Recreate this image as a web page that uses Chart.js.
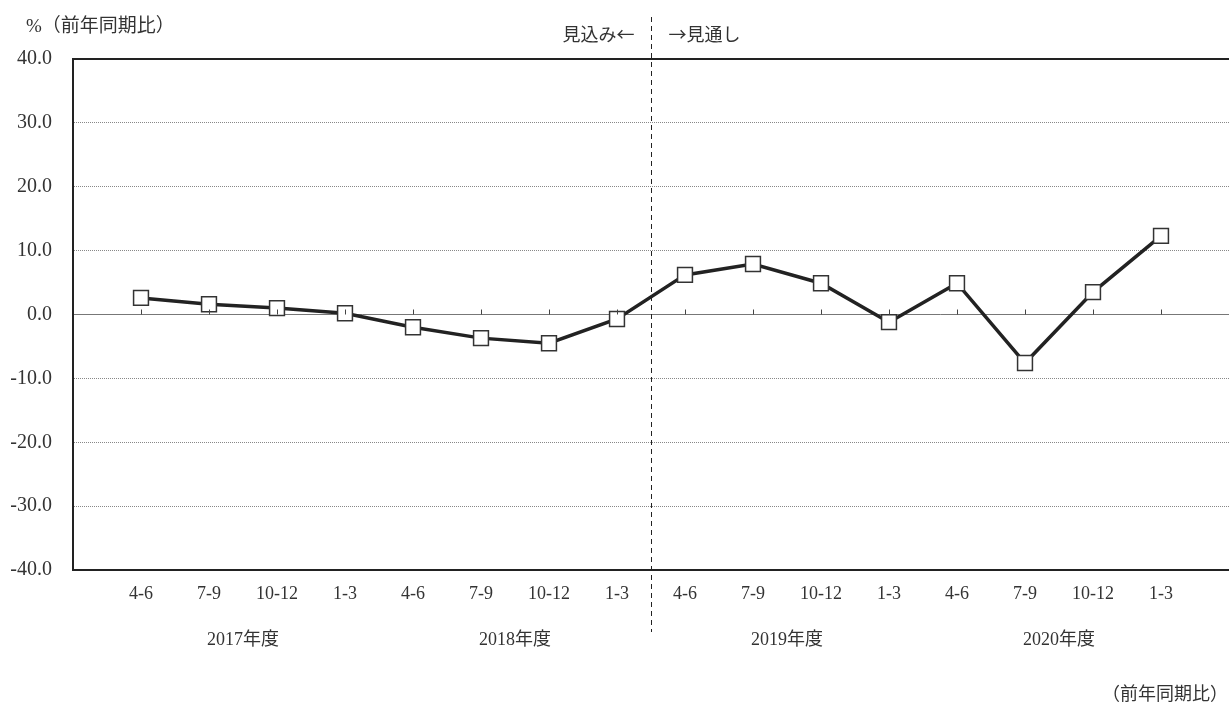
<!DOCTYPE html>
<html>
<head>
<meta charset="utf-8">
<script src="https://cdn.jsdelivr.net/npm/chart.js@4"></script>
<style>
  body { margin: 0; background: #fff; }
  #wrap { width: 1229px; height: 706px; position: relative; }
</style>
</head>
<body>
<div id="wrap"><canvas id="line-chart"></canvas></div>
<script>
const QUARTERS = ['4-6', '7-9', '10-12', '1-3', '4-6', '7-9', '10-12', '1-3',
                  '4-6', '7-9', '10-12', '1-3', '4-6', '7-9', '10-12', '1-3'];
const YEARS = ['2017年度', '2018年度', '2019年度', '2020年度'];
const VALUES = [2.6, 1.6, 1.0, 0.2, -2.0, -3.7, -4.5, -0.7,
                6.2, 7.9, 4.9, -1.2, 4.9, -7.6, 3.5, 12.3];
const Y_TICKS = [-40, -30, -20, -10, 0, 10, 20, 30, 40];
const SPLIT_AFTER = 8; // 見込み / 見通し boundary (after 8th quarter)

const SERIF = "'Liberation Serif', 'Noto Sans CJK JP', serif";
const JP = "'Noto Sans CJK JP', sans-serif";
const INK = '#222';

const annotations = {
  id: 'annotations',
  afterDraw(chart) {
    const { ctx, chartArea: area, scales: { x, y } } = chart;
    ctx.save();

    // frame top line
    ctx.strokeStyle = INK;
    ctx.lineWidth = 2;
    ctx.beginPath();
    ctx.moveTo(area.left, area.top);
    ctx.lineTo(area.right, area.top);
    ctx.stroke();

    // small ticks on the zero line
    const y0 = y.getPixelForValue(0);
    ctx.strokeStyle = '#444';
    ctx.lineWidth = 1;
    QUARTERS.forEach((_, i) => {
      const px = Math.round(x.getPixelForValue(i + 1)) + 0.5;
      ctx.beginPath();
      ctx.moveTo(px, y0);
      ctx.lineTo(px, y0 - 5);
      ctx.stroke();
    });

    // dashed split line
    const sx = Math.round(x.getPixelForValue(SPLIT_AFTER + 0.5)) + 0.5;
    ctx.strokeStyle = INK;
    ctx.setLineDash([5, 4]);
    ctx.beginPath();
    ctx.moveTo(sx, 17);
    ctx.lineTo(sx, 632);
    ctx.stroke();
    ctx.setLineDash([]);

    ctx.fillStyle = '#333';
    ctx.textBaseline = 'middle';
    ctx.font = "18px " + JP;
    ctx.textAlign = 'right';
    ctx.fillText('見込み←', sx - 17, 34);
    ctx.textAlign = 'left';
    ctx.fillText('→見通し', sx + 17, 34);
    ctx.font = "19px " + SERIF;
    ctx.fillText('%（前年同期比）', 26, 27);
    ctx.font = "18px " + SERIF;
    ctx.textAlign = 'right';
    ctx.fillText('（前年同期比）', 1228, 695);

    // fiscal year labels
    ctx.textAlign = 'center';
    YEARS.forEach((label, i) => {
      ctx.fillText(label, x.getPixelForValue(i * 4 + 2.5), 640);
    });
    ctx.restore();
  },
};

function initChart() {
  const ctx = document.getElementById('line-chart').getContext('2d');
  new Chart(ctx, {
    type: 'line',
    data: {
      datasets: [{
        data: VALUES.map((v, i) => ({ x: i + 1, y: v })),
        borderColor: INK,
        borderWidth: 3.5,
        pointStyle: 'rect',
        pointRadius: 10.5,
        pointBorderWidth: 1.5,
        pointBorderColor: '#333',
        pointBackgroundColor: '#fff',
        tension: 0,
      }],
    },
    options: {
      responsive: true,
      maintainAspectRatio: false,
      animation: false,
      layout: { autoPadding: false, padding: { top: 59, right: 0, left: 0, bottom: 0 } },
      plugins: { legend: { display: false }, tooltip: { enabled: false } },
      scales: {
        x: {
          type: 'linear',
          min: 0,
          max: QUARTERS.length + 1,
          afterBuildTicks: (scale) => { scale.ticks = QUARTERS.map((_, i) => ({ value: i + 1 })); },
          grid: { display: false },
          border: { display: true, color: INK, width: 2 },
          ticks: {
            color: '#333', font: { family: SERIF, size: 18 }, padding: 5, maxRotation: 0, autoSkip: false,
            callback: (v) => QUARTERS[v - 1],
          },
          afterFit: (scale) => { scale.height = 136; },
        },
        y: {
          min: -40,
          max: 40,
          afterBuildTicks: (scale) => { scale.ticks = Y_TICKS.map(v => ({ value: v })); },
          grid: {
            drawTicks: false,
            color: (c) => (c.tick && Math.abs(c.tick.value) === 40) ? 'rgba(0,0,0,0)' : (c.tick && c.tick.value === 0 ? '#777' : '#888'),
            lineWidth: 1,
          },
          border: {
            display: true, color: INK, width: 2,
            dash: (c) => (c.tick && c.tick.value === 0) ? [] : [1, 1],
          },
          ticks: {
            color: '#333',
            font: { family: SERIF, size: 20 },
            padding: 21,
            callback: (v) => v.toFixed(1),
          },
          afterFit: (scale) => { scale.width = 73; },
        },
      },
    },
    plugins: [annotations],
  });
}

initChart();
</script>
</body>
</html>
